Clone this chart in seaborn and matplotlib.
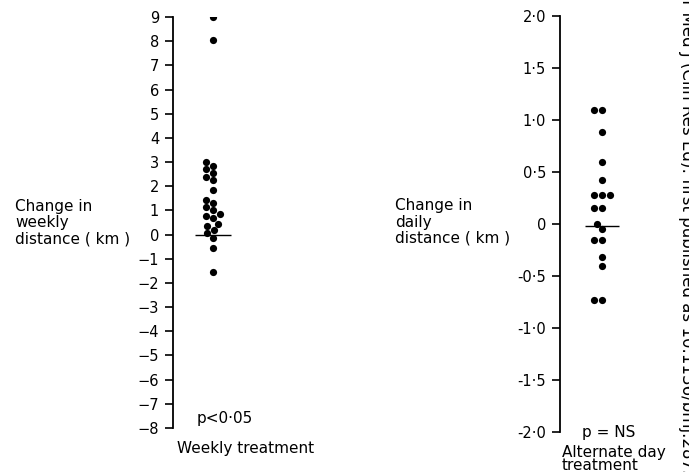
import matplotlib
matplotlib.use("Agg")
import matplotlib.pyplot as plt
import seaborn as sns

# --- dados ---
weekly_change = [9.0, 8.05, 3.0, 2.85, 2.7, 2.55, 2.4, 2.25, 1.85, 1.45, 1.3, 1.15,
                 1.0, 0.85, 0.75, 0.7, 0.45, 0.35, 0.2, 0.05, -0.15, -0.55, -1.55]
daily_change = [1.1, 1.1, 0.88, 0.6, 0.42, 0.28, 0.28, 0.28, 0.15, 0.15, 0.0,
                -0.05, -0.15, -0.15, -0.32, -0.4, -0.73, -0.73]

weekly_ticks = list(range(-8, 10))
weekly_labels = [str(t) if t >= 0 else "\u2212" + str(-t) for t in weekly_ticks]
daily_ticks = [-2.0, -1.5, -1.0, -0.5, 0, 0.5, 1.0, 1.5, 2.0]
daily_labels = ["-2·0", "-1·5", "-1·0", "-0·5", "0", "0·5", "1·0", "1·5", "2·0"]

sns.set_theme(style="white")
plt.rcParams['font.family'] = ['DejaVu Sans']
plt.rcParams['text.color'] = 'black'

W, H = 689, 472
fig = plt.figure(figsize=(W / 100, H / 100), dpi=100)
fig.patch.set_facecolor("white")


def style_axis(ax, ticks, labels, lo, hi):
    ax.set_ylim(lo, hi)
    ax.set_xlim(-0.5, 0.5)
    ax.set_yticks(ticks)
    ax.set_yticklabels(labels)
    ax.set_xticks([])
    ax.set_xlabel("")
    ax.set_ylabel("")
    for s in ["top", "right", "bottom"]:
        ax.spines[s].set_visible(False)
    ax.spines["left"].set_color("black")
    ax.spines["left"].set_linewidth(1.3)
    ax.tick_params(axis="y", direction="out", length=6, width=1.2,
                   labelsize=10.5, pad=4, colors="black", left=True)
    ax.set_facecolor("none")


# ----- painel esquerdo: tratamento semanal -----
ax1 = fig.add_axes([173 / W, 1 - 428 / H, 80 / W, (428 - 17) / H])
sns.swarmplot(y=weekly_change, ax=ax1, color="black", size=5.2, linewidth=0)
ax1.hlines(0, -0.23, 0.23, color="black", lw=1.0)
style_axis(ax1, weekly_ticks, weekly_labels, -8, 9)

# ----- painel direito: tratamento em dias alternados -----
ax2 = fig.add_axes([560 / W, 1 - 432 / H, 84 / W, (432 - 16) / H])
sns.swarmplot(y=daily_change, ax=ax2, color="black", size=5.2, linewidth=0)
ax2.hlines(-0.02, -0.2, 0.2, color="black", lw=1.0)
style_axis(ax2, daily_ticks, daily_labels, -2.0, 2.0)

# ----- textos -----
fs = 11
fig.text(15 / W, 1 - 223 / H, "Change in\nweekly\ndistance ( km )",
         ha="left", va="center", fontsize=fs, linespacing=1.1)
fig.text(395 / W, 1 - 222 / H, "Change in\ndaily\ndistance ( km )",
         ha="left", va="center", fontsize=fs, linespacing=1.1)
fig.text(197 / W, 1 - 418 / H, "p<0·05", ha="left", va="center", fontsize=fs)
fig.text(177 / W, 1 - 449 / H, "Weekly treatment", ha="left", va="center", fontsize=fs)
fig.text(582 / W, 1 - 433 / H, "p = NS", ha="left", va="center", fontsize=fs)
fig.text(562 / W, 1 - 459 / H, "Alternate day\ntreatment", ha="left", va="center",
         fontsize=fs, linespacing=0.8)

# marca d'água cortada na margem direita
fig.text(687 / W, 0.5, "Br Med J (Clin Res Ed): first published as 10.1136/bmj.287.6",
         rotation=-90, ha="center", va="center", fontsize=12, color="black")

fig.savefig("out.png", dpi=100, facecolor="white")
plt.close(fig)
